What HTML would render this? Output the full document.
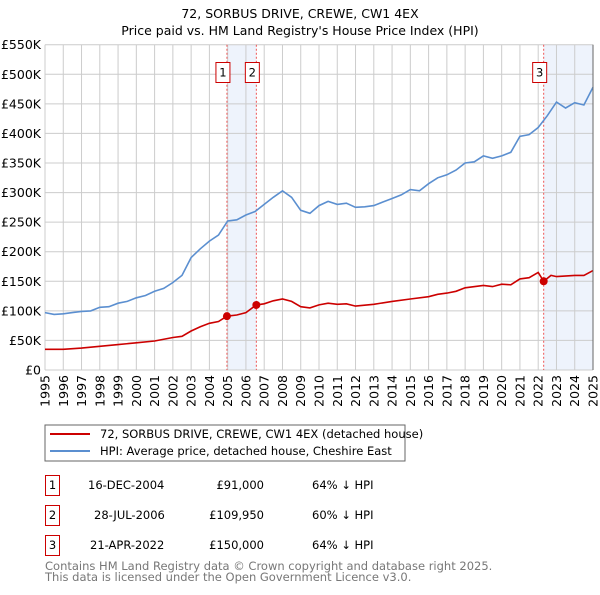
<!DOCTYPE html>
<html><head><meta charset="utf-8"><style>
body{margin:0;background:#fff;font-family:"Liberation Sans","DejaVu Sans",sans-serif;}
svg text{font-family:"DejaVu Sans","Liberation Sans",sans-serif;}
</style></head><body>
<svg id="c" width="600" height="590" xmlns="http://www.w3.org/2000/svg">
<text x="300" y="18" text-anchor="middle" font-size="12.5" fill="#000">72, SORBUS DRIVE, CREWE, CW1 4EX</text>
<text x="300" y="35" text-anchor="middle" font-size="12.5" fill="#000">Price paid vs. HM Land Registry's House Price Index (HPI)</text>
<g id="plot"></g>
<rect x="45" y="425" width="360" height="36" fill="#fff" stroke="#666"/>
<line x1="50" y1="434" x2="90" y2="434" stroke="#cc0000" stroke-width="2"/>
<text x="100" y="438" font-size="11.5">72, SORBUS DRIVE, CREWE, CW1 4EX (detached house)</text>
<line x1="50" y1="451" x2="90" y2="451" stroke="#5b8fd0" stroke-width="2"/>
<text x="100" y="455" font-size="11.5">HPI: Average price, detached house, Cheshire East</text>
<g font-size="11.5">
<rect x="45.5" y="475.5" width="14" height="20" fill="none" stroke="#cc0000"/><text x="52.5" y="489" text-anchor="middle">1</text>
<text x="88" y="489">16-DEC-2004</text><text x="264" y="489" text-anchor="end">£91,000</text><text x="312" y="489">64% ↓ HPI</text>
<rect x="45.5" y="505.5" width="14" height="20" fill="none" stroke="#cc0000"/><text x="52.5" y="519" text-anchor="middle">2</text>
<text x="94" y="519">28-JUL-2006</text><text x="264" y="519" text-anchor="end">£109,950</text><text x="312" y="519">60% ↓ HPI</text>
<rect x="45.5" y="535.5" width="14" height="20" fill="none" stroke="#cc0000"/><text x="52.5" y="549" text-anchor="middle">3</text>
<text x="90" y="549">21-APR-2022</text><text x="264" y="549" text-anchor="end">£150,000</text><text x="312" y="549">64% ↓ HPI</text>
</g>
<text x="45" y="570" font-size="11.5" fill="#777">Contains HM Land Registry data © Crown copyright and database right 2025.</text>
<text x="45" y="581" font-size="11.5" fill="#777">This data is licensed under the Open Government Licence v3.0.</text>
</svg>
<script>
const hpiYears=[1995,1995.5,1996,1996.5,1997,1997.5,1998,1998.5,1999,1999.5,2000,2000.5,2001,2001.5,2002,2002.5,2003,2003.5,2004,2004.5,2005,2005.5,2006,2006.5,2007,2007.5,2008,2008.5,2009,2009.5,2010,2010.5,2011,2011.5,2012,2012.5,2013,2013.5,2014,2014.5,2015,2015.5,2016,2016.5,2017,2017.5,2018,2018.5,2019,2019.5,2020,2020.5,2021,2021.5,2022,2022.5,2023,2023.5,2024,2024.5,2025];
const hpiValues=[97,94,95,97,99,100,106,107,113,116,122,126,133,138,148,160,190,205,218,228,252,254,262,268,280,292,303,292,270,265,278,285,280,282,275,276,278,284,290,296,305,303,315,325,330,338,350,352,362,358,362,368,395,398,410,430,453,443,452,448,478];
const priceYears=[1995,1996,1997,1998,1999,2000,2001,2002,2002.5,2003,2003.5,2004,2004.5,2004.96,2005.5,2006,2006.57,2007,2007.5,2008,2008.5,2009,2009.5,2010,2010.5,2011,2011.5,2012,2013,2014,2015,2016,2016.5,2017,2017.5,2018,2019,2019.5,2020,2020.5,2021,2021.5,2022,2022.3,2022.7,2023,2024,2024.5,2025];
const priceValues=[35,35,37,40,43,46,49,55,57,66,73,79,82,91,93,97,110,112,117,120,116,107,105,110,113,111,112,108,111,116,120,124,128,130,133,139,143,141,145,144,154,156,165,150,160,158,160,160,168];
const saleYears=[2004.96,2006.57,2022.3];
const saleValues=[91,109.95,150];
const saleLabels=["1","2","3"];
const yTicks=[0,50,100,150,200,250,300,350,400,450,500,550];
const yTickLabels=["£0","£50K","£100K","£150K","£200K","£250K","£300K","£350K","£400K","£450K","£500K","£550K"];
const xTicks=[1995,1996,1997,1998,1999,2000,2001,2002,2003,2004,2005,2006,2007,2008,2009,2010,2011,2012,2013,2014,2015,2016,2017,2018,2019,2020,2021,2022,2023,2024,2025];

const X0=45,X1=593,Y0=370,Y1=44.7;
const xs=y=>X0+(y-1995)/30*(X1-X0);
const ys=v=>Y0-v/550*(Y0-Y1);
const NS="http://www.w3.org/2000/svg";
const g=document.getElementById('plot');
function mk(t,a){const e=document.createElementNS(NS,t);for(const k in a)e.setAttribute(k,a[k]);g.appendChild(e);return e;}
// shading
let s1=mk('rect',{x:xs(2005),y:Y1,width:xs(saleYears[1])-xs(2005),height:Y0-Y1,fill:'#eef3fc'});


let s2=mk('rect',{x:xs(saleYears[2]),y:Y1,width:X1-xs(saleYears[2]),height:Y0-Y1,fill:'#eef3fc'});


yTicks.forEach((v,i)=>{
 let l=mk('line',{x1:X0,x2:X1,y1:ys(v),y2:ys(v),stroke:'#ccc','stroke-width':1});
 
 
 let t=mk('text',{x:X0-4,y:ys(v)+4.5,'text-anchor':'end','font-size':'12.5',fill:'#000'});
 t.textContent=yTickLabels[i];
 
 
});
xTicks.forEach(y=>{
 let l=mk('line',{x1:xs(y),x2:xs(y),y1:Y1,y2:Y0,stroke:'#ccc','stroke-width':1});
 
 
 let t=mk('text',{x:0,y:0,'text-anchor':'end','font-size':'12.5',fill:'#000',transform:`translate(${xs(y)+4.5},${Y0+5}) rotate(-90)`});
 t.textContent=y;
 
 
});
saleYears.forEach((y,i)=>{
 let l=mk('line',{x1:xs(y),x2:xs(y),y1:Y1,y2:Y0,stroke:'#ee5555','stroke-width':1,'stroke-dasharray':'2,2'});
 
 
 let r=mk('rect',{x:xs(y)-21+0.5*0,y:62.5,width:14,height:20,fill:'#fff',stroke:'#cc0000'});
 r.setAttribute('x',xs(y)-(i==2?11:11));
 
 
 let t=mk('text',{x:xs(y)-4,y:76.5,'text-anchor':'middle','font-size':'11.5'});
 t.textContent=saleLabels[i];
 
 
});
const path=(xa,va)=>xa.map((y,i)=>(i?'L':'M')+xs(y).toFixed(1)+','+ys(va[i]).toFixed(1)).join('');
let hp=mk('path',{d:path(hpiYears,hpiValues),fill:'none',stroke:'#5b8fd0','stroke-width':1.6});


let pp=mk('path',{d:path(priceYears,priceValues),fill:'none',stroke:'#cc0000','stroke-width':1.6});


saleYears.forEach((y,i)=>{
 let c=mk('circle',{cx:xs(y),cy:ys(saleValues[i]),r:4,fill:'#cc0000'});
 
 
});
let ax=mk('line',{x1:X1,x2:X1,y1:Y1,y2:Y0,stroke:'#666','stroke-width':1});


</script>
</body></html>
